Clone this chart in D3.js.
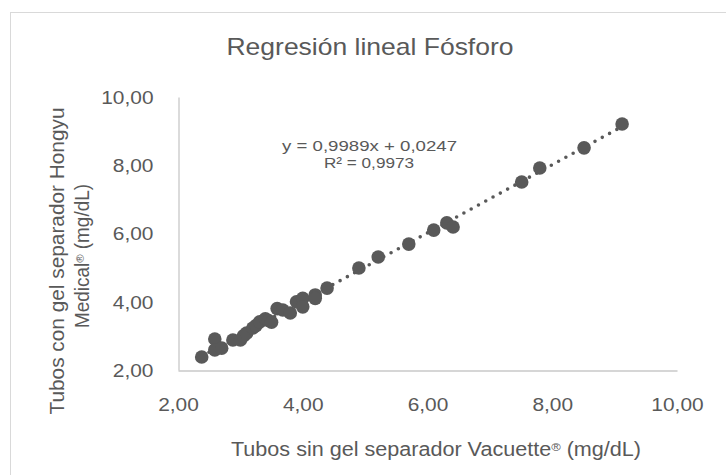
<!DOCTYPE html>
<html>
<head>
<meta charset="utf-8">
<script src="https://cdn.jsdelivr.net/npm/d3@7"></script>
<style>
  html, body { margin: 0; padding: 0; background: #ffffff; }
  svg { display: block; }
  text { font-family: "Liberation Sans", Arial, sans-serif; fill: #595959; }
</style>
</head>
<body>
<svg id="chart" width="726" height="475"></svg>
<script>
// ---- data ----
const xValues = [2.38, 2.59, 2.59, 2.70, 2.88, 3.00, 3.05, 3.10, 3.20, 3.25, 3.31, 3.40, 3.45, 3.50, 3.59, 3.68, 3.80, 3.90, 4.00, 4.00, 4.20, 4.20, 4.39, 4.90, 5.21, 5.70, 6.10, 6.31, 6.41, 7.51, 7.80, 8.51, 9.12];
const yValues = [2.38, 2.91, 2.59, 2.64, 2.88, 2.88, 3.00, 3.08, 3.23, 3.30, 3.41, 3.50, 3.45, 3.40, 3.80, 3.76, 3.67, 4.00, 4.10, 3.85, 4.20, 4.10, 4.40, 4.99, 5.31, 5.69, 6.10, 6.31, 6.19, 7.51, 7.92, 8.51, 9.21];
const xTicks = [2, 4, 6, 8, 10];
const yTicks = [2, 4, 6, 8, 10];
const slope = 0.9989;
const intercept = 0.0247;
const titleText = "Regresión lineal Fósforo";
// [text, superscript?] pieces
const xTitle = [["Tubos sin gel separador Vacuette", false], ["®", true], [" (mg/dL)", false]];
const yTitle1 = [["Tubos con gel separador Hongyu", false]];
const yTitle2 = [["Medical", false], ["®", true], [" (mg/dL)", false]];
const eqLine1 = "y = 0,9989x + 0,0247";
const eqLine2 = "R² = 0,9973";

const fmt = v => d3.format(".2f")(v).replace(".", ",");

const svg = d3.select("#chart");
const gray = "#595959";

// chart border
svg.append("rect").attr("x", 10.5).attr("y", 12.5).attr("width", 800).attr("height", 600)
  .attr("fill", "none").attr("stroke", "#d9d9d9").attr("stroke-width", 1);

const x = d3.scaleLinear().domain([2, 10]).range([178, 677]);
const y = d3.scaleLinear().domain([2, 10]).range([370, 97]);

// axes (lines only, no ticks)
const xAxis = svg.append("g").attr("transform", "translate(0,370.5)")
  .call(d3.axisBottom(x).tickValues(xTicks).tickSize(0).tickFormat(fmt));
xAxis.select(".domain").attr("stroke", "#c8c8c8").attr("stroke-width", 1.3);
xAxis.selectAll("text").attr("fill", gray).attr("font-size", 18.5).attr("dy", null).attr("y", 40)
  .style("font-family", "Liberation Sans, Arial, sans-serif");

const yAxis = svg.append("g").attr("transform", "translate(178.5,0)")
  .call(d3.axisLeft(y).tickValues(yTicks).tickSize(0).tickFormat(fmt));
yAxis.select(".domain").attr("stroke", "#c8c8c8").attr("stroke-width", 1.3);
yAxis.selectAll("text").attr("fill", gray).attr("font-size", 18.5).attr("x", -25).attr("dy", "0.35em")
  .style("font-family", "Liberation Sans, Arial, sans-serif");

// stretch tick labels horizontally
svg.selectAll(".tick text").each(function () {
  const w = this.getComputedTextLength();
  d3.select(this).attr("textLength", w * 1.13).attr("lengthAdjust", "spacingAndGlyphs");
});

// trendline (dotted)
const xMin = d3.min(xValues), xMax = d3.max(xValues);
svg.append("line")
  .attr("x1", x(xMin)).attr("y1", y(slope * xMin + intercept))
  .attr("x2", x(xMax)).attr("y2", y(slope * xMax + intercept))
  .attr("stroke", gray).attr("stroke-width", 3.6)
  .attr("stroke-linecap", "round").attr("stroke-dasharray", "0 8.3");

// points
svg.append("g").selectAll("circle")
  .data(xValues.map((v, i) => [v, yValues[i]]))
  .join("circle")
  .attr("cx", d => x(d[0])).attr("cy", d => y(d[1]))
  .attr("r", 6.8).attr("fill", gray);

// helper for stretched text
function label(txt, cx, cy, size, width, rotate) {
  const t = svg.append("text").attr("text-anchor", "middle").attr("font-size", size);
  if (Array.isArray(txt)) {
    txt.forEach(([s, sup]) => {
      const ts = t.append("tspan").text(s);
      if (sup) ts.attr("font-size", size * 0.6).attr("baseline-shift", "45%");
    });
  } else t.text(txt);
  if (width) t.attr("textLength", width).attr("lengthAdjust", "spacingAndGlyphs");
  if (rotate) t.attr("transform", `translate(${cx},${cy}) rotate(-90)`);
  else t.attr("x", cx).attr("y", cy);
  return t;
}

label(titleText, 370, 55, 24, 287);
label(xTitle, 436, 456, 19.5, 410);
label(yTitle1, 64, 261, 19.5, 307, true);
label(yTitle2, 89, 256, 19.5, 144, true);
label(eqLine1, 369.5, 151, 15.5, 175);
label(eqLine2, 369, 168, 15.5, 90);
</script>
</body>
</html>
